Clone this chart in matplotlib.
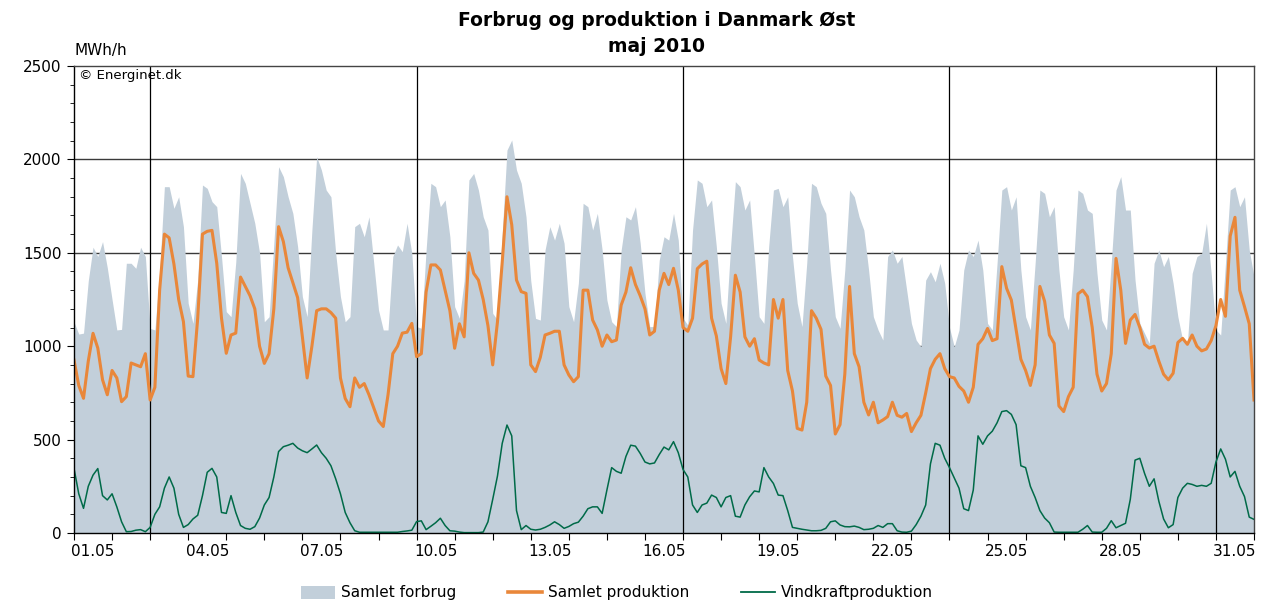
import matplotlib

matplotlib.use("Agg")

import matplotlib.pyplot as plt
import numpy as np
import pandas as pd
from matplotlib.lines import Line2D
from matplotlib.patches import Patch
from matplotlib.ticker import FixedLocator, MultipleLocator

# 3-hourly readings (00, 03, ..., 21) for each day of May 2010, plus 01.06 00:00
forbrug = [
    1130, 1065, 1070, 1350, 1530, 1480, 1560, 1420,
    1250, 1087, 1090, 1444, 1444, 1417, 1530, 1480,
    1095, 1087, 1400, 1854, 1854, 1738, 1800, 1640,
    1230, 1122, 1354, 1863, 1845, 1774, 1747, 1480,
    1185, 1158, 1450, 1925, 1872, 1765, 1658, 1500,
    1131, 1158, 1550, 1961, 1908, 1800, 1711, 1533,
    1265, 1158, 1622, 2015, 1943, 1836, 1800, 1497,
    1265, 1131, 1158, 1640, 1658, 1586, 1693, 1444,
    1194, 1087, 1087, 1480, 1542, 1506, 1658, 1497,
    1105, 1096, 1515, 1872, 1854, 1747, 1783, 1586,
    1212, 1149, 1350, 1890, 1925, 1836, 1693, 1622,
    1176, 1140, 1604, 2050, 2104, 1943, 1872, 1693,
    1350, 1149, 1140, 1515, 1640, 1568, 1658, 1551,
    1212, 1131, 1337, 1765, 1747, 1622, 1711, 1515,
    1247, 1131, 1105, 1515, 1693, 1676, 1747, 1551,
    1283, 1105, 1105, 1461, 1586, 1568, 1711, 1568,
    1150, 1113, 1622, 1890, 1872, 1747, 1783, 1533,
    1230, 1122, 1533, 1881, 1854, 1729, 1783, 1480,
    1158, 1122, 1533, 1836, 1845, 1747, 1800, 1480,
    1230, 1105, 1444, 1872, 1854, 1765, 1711, 1408,
    1158, 1096, 1408, 1836, 1800, 1693, 1622, 1408,
    1158, 1087, 1033, 1480, 1515, 1444, 1480, 1301,
    1122, 1033, 997, 1354, 1399, 1345, 1444, 1337,
    1100, 997, 1087, 1408, 1515, 1480, 1568, 1408,
    1122, 1087, 1444, 1836, 1854, 1729, 1800, 1408,
    1158, 1087, 1444, 1836, 1818, 1693, 1747, 1408,
    1158, 1087, 1408, 1836, 1818, 1729, 1711, 1390,
    1140, 1087, 1444, 1836, 1908, 1729, 1729, 1354,
    1122, 1069, 1015, 1444, 1515, 1426, 1480, 1337,
    1158, 1033, 1015, 1390, 1480, 1497, 1658, 1390,
    1087, 1060, 1444, 1836, 1854, 1747, 1800, 1515,
    1372,
]

produktion = [
    926, 790, 721, 920, 1069, 990, 820, 740,
    870, 830, 703, 730, 910, 900, 890, 960,
    712, 780, 1300, 1600, 1580, 1440, 1250, 1131,
    840, 837, 1150, 1600, 1615, 1620, 1444, 1150,
    962, 1060, 1070, 1370, 1320, 1270, 1200, 1000,
    908, 960, 1200, 1640, 1560, 1420, 1340, 1260,
    1050, 830, 1000, 1190, 1200, 1200, 1180, 1150,
    830, 720, 676, 830, 780, 800, 740, 670,
    600, 570, 740, 960, 1000, 1070, 1075, 1122,
    944, 960, 1290, 1435, 1435, 1408, 1300, 1190,
    989, 1120, 1050, 1500, 1390, 1354, 1250, 1110,
    900, 1130, 1450, 1800, 1650, 1354, 1292, 1283,
    900, 864, 940, 1060, 1069, 1080, 1080, 900,
    846, 810, 837, 1300, 1300, 1140, 1087, 1000,
    1060, 1024, 1033, 1220, 1290, 1420, 1330, 1270,
    1200, 1060, 1080, 1300, 1390, 1330, 1417, 1301,
    1100, 1080, 1150, 1415, 1440, 1455, 1150, 1055,
    880, 800, 1050, 1380, 1290, 1050, 1000, 1040,
    926, 910, 900, 1250, 1150, 1250, 870, 760,
    560, 551, 700, 1190, 1150, 1090, 840, 790,
    530, 580, 850, 1320, 960, 890, 700, 632,
    700, 590, 605, 623, 700, 630, 620, 640,
    543, 590, 630, 750, 880, 930, 960, 880,
    837, 830, 785, 760, 700, 780, 1010, 1040,
    1095, 1030, 1040, 1426, 1310, 1247, 1090, 930,
    870, 790, 900, 1320, 1240, 1060, 1015, 680,
    650, 730, 780, 1280, 1300, 1265, 1100, 850,
    760, 800, 960, 1470, 1300, 1015, 1140, 1170,
    1100, 1010, 990, 1000, 920, 850, 820, 855,
    1020, 1042, 1010, 1060, 1000, 975, 985, 1030,
    1110, 1250, 1160, 1590, 1690, 1300, 1212, 1120,
    712,
]

vindkraft = [
    346, 210, 132, 250, 310, 345, 200, 177,
    210, 140, 60, 7, 8, 15, 18, 7,
    30, 100, 140, 240, 300, 240, 100, 30,
    45, 75, 95, 200, 325, 346, 300, 110,
    105, 200, 110, 40, 25, 20, 34, 80,
    150, 190, 300, 436, 462, 470, 480, 455,
    440, 430, 450, 471, 430, 400, 360, 290,
    210, 110, 55, 12, 4, 4, 4, 4,
    4, 4, 4, 4, 4, 8, 11, 15,
    61, 65, 18, 36, 55, 79, 40, 12,
    10, 5, 2, 2, 2, 2, 5, 60,
    180, 305, 480, 578, 520, 120, 18, 40,
    20, 16, 20, 30, 43, 60, 45, 25,
    35, 50, 58, 90, 130, 140, 140, 105,
    230, 350, 330, 320, 410, 470, 465, 426,
    380, 370, 375, 420, 460, 445, 489, 430,
    340, 300, 150, 110, 150, 160, 203, 190,
    140, 190, 200, 90, 85, 150, 194, 225,
    220, 350, 300, 265, 203, 200, 120, 30,
    25, 20, 16, 12, 12, 14, 25, 60,
    65, 43, 34, 33, 37, 30, 18, 20,
    25, 40, 30, 50, 50, 12, 5, 4,
    10, 45, 90, 150, 370, 480, 470, 400,
    350, 295, 240, 130, 120, 230, 520, 475,
    520, 545, 590, 650, 655, 635, 580, 360,
    350, 250, 190, 120, 80, 55, 5, 4,
    4, 4, 4, 4, 20, 40, 5, 4,
    4, 25, 66, 28, 40, 52, 180, 390,
    400, 319, 250, 290, 170, 75, 28, 45,
    190, 240, 266, 260, 250, 255, 250, 266,
    380, 450, 395, 300, 330, 250, 195, 85,
    73,
]

dage = pd.date_range("2010-05-01", "2010-05-31", freq="D")
dag_labels = [d.strftime("%d.%m") for d in dage]

t = np.arange(len(forbrug)) * 3 / 24.0  # days since 01.05 00:00

fig = plt.figure(figsize=(12.62, 6.07), dpi=100)
ax = fig.add_axes([74 / 1262, 1 - 533 / 607, 1180 / 1262, 467 / 607])

# horizontal grid behind the area
for y in [500, 1000, 1500, 2000]:
    ax.axhline(y, color="#3a3a3a", lw=1.0, zorder=1)

ax.fill_between(t, 0, forbrug, color="#c2cfda", lw=0, zorder=2)

# week lines on Mondays
for i, d in enumerate(dage):
    if d.weekday() == 0:
        ax.axvline(i, color="black", lw=0.9, zorder=3)

ax.plot(t, produktion, color="#e9873a", lw=2.2, zorder=4, solid_joinstyle="round")
ax.plot(t, vindkraft, color="#006a48", lw=1.1, zorder=5)

ax.set_xlim(0, len(dage))
ax.set_ylim(0, 2500)

ax.yaxis.set_major_locator(MultipleLocator(500))
ax.yaxis.set_minor_locator(MultipleLocator(100))
ax.tick_params(axis="y", which="major", direction="out", length=5, labelsize=11, pad=4)
ax.tick_params(axis="y", which="minor", direction="out", length=3)

ax.xaxis.set_major_locator(FixedLocator(np.arange(len(dage) + 1)))
ax.xaxis.set_major_formatter(plt.NullFormatter())
pos = np.arange(0, len(dage), 3) + 0.5
ax.xaxis.set_minor_locator(FixedLocator(pos))
ax.set_xticklabels([dag_labels[int(p)] for p in pos], minor=True)
ax.tick_params(axis="x", which="major", direction="out", length=5)
ax.tick_params(axis="x", which="minor", length=0, labelsize=11, pad=8)

for s in ["top", "right"]:
    ax.spines[s].set_color("#444444")
for s in ax.spines.values():
    s.set_linewidth(1.0)
    s.set_zorder(6)

fig.text(657 / 1262, 1 - 20 / 607, "Forbrug og produktion i Danmark Øst",
         ha="center", va="center", fontsize=13.5, fontweight="bold")
fig.text(657 / 1262, 1 - 46 / 607, "maj 2010",
         ha="center", va="center", fontsize=13.5, fontweight="bold")
fig.text(75 / 1262, 1 - 51 / 607, "MWh/h", ha="left", va="center", fontsize=11)
ax.text(0.004, 0.993, "© Energinet.dk", transform=ax.transAxes,
        ha="left", va="top", fontsize=9.5, zorder=7)

handles = [
    Patch(facecolor="#c2cfda", edgecolor="none"),
    Line2D([], [], color="#e9873a", lw=2.6),
    Line2D([], [], color="#006a48", lw=1.3),
]
fig.legend(handles, ["Samlet forbrug", "Samlet produktion", "Vindkraftproduktion"],
           loc="center", bbox_to_anchor=(617 / 1262, 1 - 593 / 607), ncol=3,
           frameon=False, fontsize=11, handlelength=2.2, handleheight=0.9,
           handletextpad=0.4, columnspacing=3.4)

fig.savefig("out.png", dpi=100)
